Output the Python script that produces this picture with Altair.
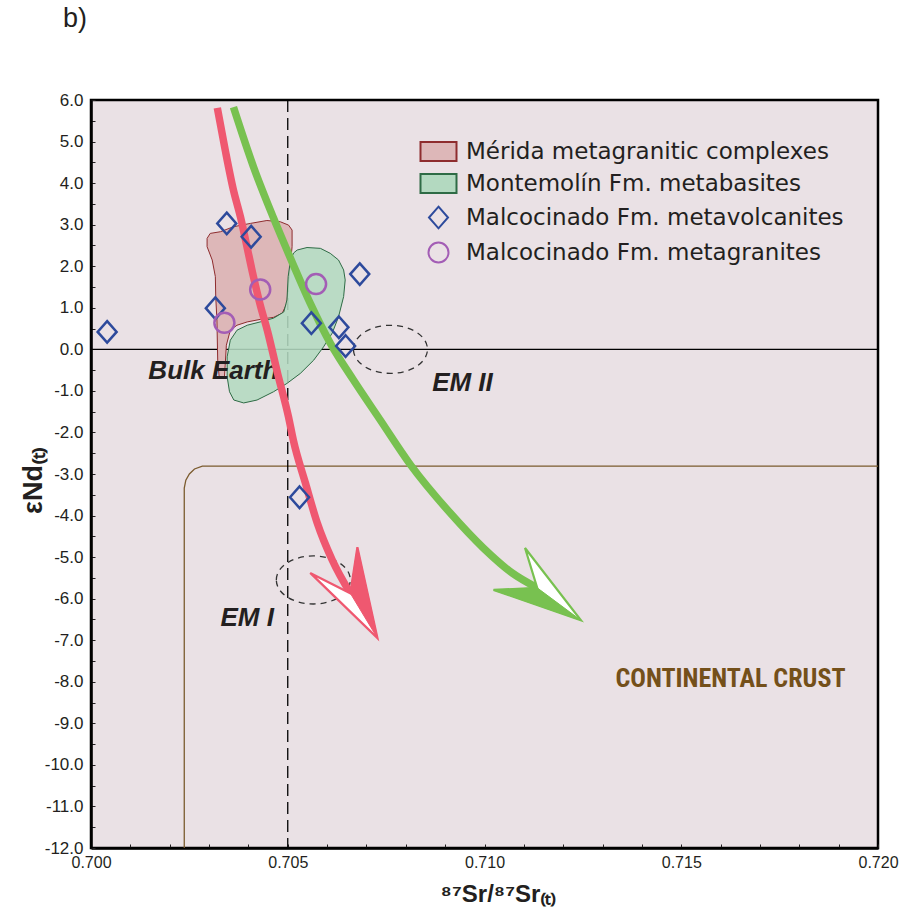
import altair as alt
import pandas as pd

GROUPS = ["Mérida metagranitic complexes", "Montemolín Fm. metabasites",
          "Malcocinado Fm. metavolcanites", "Malcocinado Fm. metagranites"]

# Malcocinado Fm. metavolcanites (diamonds)
volc_x = [0.70041, 0.70345, 0.70407, 0.70316, 0.70683, 0.70560, 0.70630, 0.70647, 0.70530]
volc_y = [0.42, 3.03, 2.71, 0.99, 1.81, 0.63, 0.53, 0.08, -3.56]
# Malcocinado Fm. metagranites (circles)
gran_x = [0.70339, 0.70430, 0.70572]
gran_y = [0.64, 1.44, 1.57]

# Mérida metagranitic complexes field
merida_x = [0.70295, 0.70303, 0.70329, 0.70362, 0.70405, 0.70447, 0.70481, 0.70502, 0.70511, 0.70511,
            0.70507, 0.70502, 0.70498, 0.70486, 0.70464, 0.70430, 0.70397, 0.70371, 0.70354, 0.70344,
            0.70341, 0.70339, 0.70326, 0.70322, 0.70320, 0.70317, 0.70316, 0.70308, 0.70295, 0.70295]
merida_y = [2.67, 2.79, 2.83, 2.95, 3.03, 3.10, 3.07, 2.99, 2.87, 2.47,
            2.07, 1.59, 1.11, 0.87, 0.77, 0.72, 0.66, 0.58, 0.46, 0.10,
            -0.38, -0.69, -0.69, -0.26, 0.71, 1.26, 1.75, 2.15, 2.47, 2.67]

# Montemolín Fm. metabasites field
montemolin_x = [0.70524, 0.70549, 0.70583, 0.70608, 0.70629, 0.70642, 0.70646, 0.70642, 0.70629, 0.70613,
                0.70591, 0.70566, 0.70532, 0.70498, 0.70464, 0.70422, 0.70388, 0.70363, 0.70352, 0.70346,
                0.70346, 0.70354, 0.70371, 0.70397, 0.70430, 0.70464, 0.70490, 0.70498, 0.70501, 0.70507,
                0.70515, 0.70524]
montemolin_y = [2.39, 2.45, 2.43, 2.31, 2.15, 1.91, 1.67, 1.27, 0.78, 0.39,
                0.06, -0.26, -0.58, -0.82, -1.02, -1.22, -1.29, -1.22, -1.02, -0.66,
                -0.18, 0.22, 0.46, 0.58, 0.66, 0.75, 0.90, 1.19, 1.75, 2.15,
                2.32, 2.39]

# Evolution arrows
red_x = [0.70321, 0.70341, 0.70362, 0.70380, 0.70397, 0.70413, 0.70430, 0.70448, 0.70474, 0.70502,
         0.70514, 0.70545, 0.70575, 0.70613, 0.70659]
red_y = [5.81, 4.80, 3.83, 3.18, 2.44, 1.74, 1.07, 0.46, -0.57, -1.63,
         -2.18, -3.22, -4.18, -5.07, -5.87]
green_x = [0.70362, 0.70413, 0.70463, 0.70512, 0.70557, 0.70608, 0.70667, 0.70735, 0.70812, 0.70913,
           0.70997, 0.71070, 0.71134]
green_y = [5.83, 4.39, 3.18, 2.08, 1.11, 0.15, -0.74, -1.70, -2.78, -3.94,
           -4.78, -5.38, -5.74]
# arrow heads: barb L, notch N, barb R, tip T
red_head_x = [0.70557, 0.70659, 0.70677, 0.70728, 0.70557]
red_head_y = [-5.38, -5.87, -4.76, -6.95, -5.38]
red_solid_x = [0.70677, 0.70659, 0.70728, 0.70677]
red_solid_y = [-4.76, -5.87, -6.95, -4.76]
green_head_x = [0.71023, 0.71134, 0.71103, 0.71245, 0.71023]
green_head_y = [-5.79, -5.74, -4.78, -6.52, -5.79]
green_solid_x = [0.71023, 0.71134, 0.71245, 0.71023]
green_solid_y = [-5.79, -5.74, -6.52, -5.79]

# Continental crust boundary
crust_x = [0.70237, 0.70237, 0.70241, 0.70250, 0.70263, 0.70283, 0.72000]
crust_y = [-12.0, -3.34, -3.15, -3.00, -2.88, -2.81, -2.81]

# Mantle end-member ellipses
em_x = [0.70761, 0.70565]
em_y = [0.00, -5.55]

# Annotations
ann_text = ["Bulk Earth", "EM II", "EM I"]
ann_x = [0.70311, 0.70944, 0.70397]
ann_y = [-0.52, -0.81, -6.47]
crust_label = ["CONTINENTAL CRUST"]
crust_label_x = [0.71625]
crust_label_y = [-7.93]

x_ticks = [round(0.700 + 0.001 * i, 3) for i in range(21)]
y_ticks = [round(6.0 - 0.5 * i, 1) for i in range(37)]

RECT = "M-1.8,-0.95L1.8,-0.95L1.8,0.95L-1.8,0.95Z"
DIAMOND = "M0,-1.08L0.95,0L0,1.08L-0.95,0Z"
ELLIPSE = "M-1,0A1,0.65,0,1,1,1,0A1,0.65,0,1,1,-1,0Z"

fill_range = ["#DDB7B8", "#B3D9C0", "transparent", "transparent"]
stroke_range = ["#8E2C2E", "#2E6B45", "#2D4A9C", "#A35DB5"]
shape_range = [RECT, RECT, DIAMOND, "circle"]

RED = "#EF5870"
GREEN = "#78C150"
INK = "#231F20"

xs = alt.Scale(domain=[0.700, 0.720], nice=False, zero=False)
ys = alt.Scale(domain=[-12.0, 6.0], nice=False, zero=False)

x_axis = alt.Axis(
    values=x_ticks, title="⁸⁷Sr/⁸⁷Sr₍ₜ₎", grid=False,
    labelExpr="(abs(datum.value*200 - round(datum.value*200)) < 0.001) ? format(datum.value, '.3f') : ''",
    tickSize=alt.ExprRef(expr="-4"), labelPadding=10, labelFontSize=16, labelFont="Liberation Sans",
    labelColor=INK, tickColor=INK, domainColor="#000", domainWidth=2.5, labelFlush=False,
    titleFont="Liberation Sans", titleFontSize=24, titleFontWeight="bold", titleColor=INK,
    titleY=46, titleX=407, titleBaseline="middle",
)
y_axis = alt.Axis(
    values=y_ticks, title="εNd₍ₜ₎", grid=False,
    labelExpr="(abs(datum.value - round(datum.value)) < 0.001) ? ((datum.value < 0 ? '-' : '') + format(abs(datum.value), '.1f')) : ''",
    tickSize=alt.ExprRef(expr="-4"), labelPadding=12, labelFontSize=17, labelFont="Liberation Sans",
    labelColor=INK, tickColor=INK, domainColor="#000", domainWidth=2.5,
    titleFont="Liberation Sans", titleFontSize=27, titleFontWeight="bold", titleColor=INK,
    titleX=-58, titleY=380, titleBaseline="middle", titleAlign="center", titleAngle=270,
)

def df(xv, yv):
    return pd.DataFrame({"x": xv, "y": yv, "order": list(range(len(xv)))})

X = lambda: alt.X("x:Q", scale=xs, axis=x_axis)
Y = lambda: alt.Y("y:Q", scale=ys, axis=y_axis)

crust = alt.Chart(df(crust_x, crust_y)).mark_line(color="#7B5B2E", strokeWidth=1.3).encode(
    x=X(), y=Y(), order="order:Q")

zero = alt.Chart(pd.DataFrame({"y": [0.0]})).mark_rule(color="#000", strokeWidth=1.2).encode(y=Y())
ref705 = alt.Chart(pd.DataFrame({"x": [0.705]})).mark_rule(color="#000", strokeWidth=1.3, strokeDash=[12, 6]).encode(x=X())

pink = alt.Chart(df(merida_x, merida_y)).mark_line(
    strokeWidth=1, fill=fill_range[0], stroke=stroke_range[0]).encode(x=X(), y=Y(), order="order:Q")
green = alt.Chart(df(montemolin_x, montemolin_y)).mark_line(
    strokeWidth=1, fill=fill_range[1], stroke=stroke_range[1], fillOpacity=0.88).encode(x=X(), y=Y(), order="order:Q")

ellipses = alt.Chart(pd.DataFrame({"x": em_x, "y": em_y})).mark_point(
    shape=ELLIPSE, size=5476, filled=False, color="#333", strokeWidth=1.3, strokeDash=[6, 5], opacity=1
).encode(x=X(), y=Y())

texts = alt.Chart(pd.DataFrame({"t": ann_text, "x": ann_x, "y": ann_y})).mark_text(
    font="Liberation Sans", fontSize=26, fontWeight="bold", fontStyle="italic", color=INK, baseline="middle"
).encode(x=X(), y=Y(), text="t:N")
crust_text = alt.Chart(pd.DataFrame({"t": crust_label, "x": crust_label_x, "y": crust_label_y})).mark_text(
    font="Liberation Sans Narrow, Roboto Condensed, Liberation Sans", fontSize=26, fontWeight="bold",
    color="#74501A", baseline="middle"
).encode(x=X(), y=Y(), text="t:N")

red_shaft = alt.Chart(df(red_x, red_y)).mark_line(color=RED, strokeWidth=7.5, strokeCap="butt",
                                                  interpolate="monotone").encode(x=X(), y=Y(), order="order:Q")
green_shaft = alt.Chart(df(green_x, green_y)).mark_line(color=GREEN, strokeWidth=7.5, strokeCap="butt",
                                                        interpolate="monotone").encode(x=X(), y=Y(), order="order:Q")
red_head = alt.Chart(df(red_head_x, red_head_y)).mark_line(fill="white", stroke=RED, strokeWidth=2.2).encode(
    x=X(), y=Y(), order="order:Q")
red_solid = alt.Chart(df(red_solid_x, red_solid_y)).mark_line(fill=RED, stroke=RED, strokeWidth=1).encode(
    x=X(), y=Y(), order="order:Q")
green_head = alt.Chart(df(green_head_x, green_head_y)).mark_line(fill="white", stroke=GREEN, strokeWidth=2.2).encode(
    x=X(), y=Y(), order="order:Q")
green_solid = alt.Chart(df(green_solid_x, green_solid_y)).mark_line(fill=GREEN, stroke=GREEN, strokeWidth=1).encode(
    x=X(), y=Y(), order="order:Q")

pts = pd.concat([
    pd.DataFrame({"x": volc_x, "y": volc_y, "group": GROUPS[2]}),
    pd.DataFrame({"x": gran_x, "y": gran_y, "group": GROUPS[3]}),
])
leg = alt.Legend(title=None)
points = alt.Chart(pts).mark_point(size=400, strokeWidth=2.5, opacity=1).encode(
    x=X(), y=Y(),
    shape=alt.Shape("group:N", scale=alt.Scale(domain=GROUPS, range=shape_range), legend=leg),
    fill=alt.Fill("group:N", scale=alt.Scale(domain=GROUPS, range=fill_range), legend=leg),
    stroke=alt.Stroke("group:N", scale=alt.Scale(domain=GROUPS, range=stroke_range), legend=leg),
)

chart = alt.layer(
    crust, zero, ref705, pink, green, ellipses, texts, crust_text,
    red_shaft, green_shaft, red_head, red_solid, green_head, green_solid, points,
).properties(
    width=787, height=748,
    autosize=alt.AutoSizeParams(type="none"),
    padding={"left": 91, "top": 100, "right": 21, "bottom": 72},
    title=alt.TitleParams("b)", anchor="start", frame="group", fontSize=27, fontWeight="normal",
                          font="Liberation Sans", color=INK, dx=-28, offset=58),
).configure_view(
    fill="#EAE1E5", stroke="#000", strokeWidth=2.5
).configure_legend(
    orient="none", legendX=336, legendY=40, padding=0,
    labelFont="DejaVu Sans", labelFontSize=23, labelColor=INK, labelLimit=0,
    symbolSize=400, symbolStrokeWidth=2, labelOffset=16, rowPadding=5,
)

chart.save("out.html", embed_options={"renderer": "svg", "actions": False})
